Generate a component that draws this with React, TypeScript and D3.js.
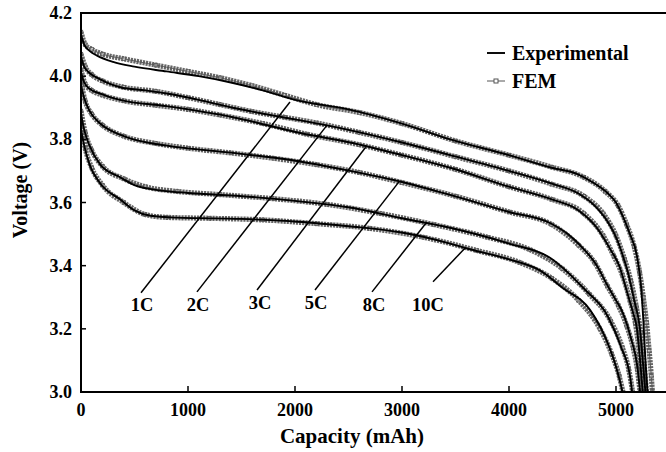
import React from 'react';
import * as d3 from 'd3';

type P = [number, number];

const xTicks = [1000, 2000, 3000, 4000, 5000];
const yTicks = [3.0, 3.2, 3.4, 3.6, 3.8, 4.0, 4.2];
const rates = ['1C', '2C', '3C', '5C', '8C', '10C'];

const exp1C: P[] = [[0,4.13],[30,4.10],[80,4.08],[150,4.065],[300,4.045],[500,4.03],[800,4.015],[1100,4.0],[1400,3.98],[1700,3.955],[2000,3.925],[2500,3.895],[3000,3.85],[3450,3.80],[4000,3.75],[4400,3.71],[4640,3.69],[4800,3.66],[4920,3.63],[5000,3.60],[5065,3.555],[5130,3.50],[5196,3.43],[5235,3.33],[5255,3.23],[5275,3.10],[5295,3.0]];
const exp2C: P[] = [[0,4.06],[30,4.03],[80,4.01],[180,3.99],[365,3.965],[600,3.955],[800,3.945],[1100,3.925],[1420,3.90],[1800,3.875],[2050,3.86],[2500,3.83],[3000,3.79],[3450,3.75],[4000,3.70],[4400,3.66],[4640,3.63],[4800,3.59],[4920,3.54],[5000,3.49],[5065,3.43],[5110,3.38],[5170,3.29],[5224,3.20],[5255,3.08],[5275,3.0]];
const exp3C: P[] = [[0,4.01],[30,3.98],[80,3.96],[180,3.945],[365,3.925],[800,3.905],[1420,3.87],[2050,3.82],[2515,3.79],[3000,3.75],[3450,3.71],[4000,3.65],[4400,3.61],[4640,3.577],[4820,3.52],[4950,3.45],[5030,3.40],[5100,3.32],[5160,3.25],[5196,3.20],[5230,3.08],[5250,3.0]];
const exp5C: P[] = [[0,3.97],[30,3.93],[80,3.89],[180,3.85],[365,3.815],[490,3.80],[800,3.78],[1420,3.757],[2050,3.73],[2515,3.70],[3000,3.665],[3449,3.624],[4000,3.57],[4383,3.535],[4550,3.50],[4692,3.455],[4822,3.40],[4916,3.34],[5000,3.29],[5065,3.25],[5140,3.17],[5200,3.08],[5225,3.0]];
const exp8C: P[] = [[0,3.88],[30,3.83],[80,3.78],[180,3.72],[365,3.68],[500,3.655],[700,3.64],[1000,3.63],[1500,3.62],[2000,3.605],[2500,3.585],[3000,3.55],[3449,3.52],[4000,3.47],[4383,3.425],[4692,3.33],[4930,3.235],[5050,3.14],[5131,3.05],[5150,3.0]];
const exp10C: P[] = [[0,3.83],[30,3.78],[80,3.72],[180,3.66],[365,3.61],[500,3.575],[650,3.558],[900,3.552],[1500,3.548],[2000,3.54],[2500,3.525],[3000,3.505],[3449,3.47],[3590,3.456],[4000,3.42],[4290,3.385],[4500,3.33],[4757,3.26],[4916,3.16],[5000,3.08],[5040,3.03],[5060,3.0]];

const fem1C: P[] = [[0,4.14],[40,4.10],[100,4.085],[200,4.07],[400,4.055],[700,4.035],[1000,4.015],[1300,3.995],[1600,3.97],[1900,3.94],[2200,3.91],[2600,3.885],[3000,3.85],[3500,3.795],[4000,3.75],[4400,3.712],[4700,3.68],[4900,3.635],[5020,3.59],[5100,3.53],[5170,3.46],[5220,3.38],[5255,3.30],[5285,3.22],[5310,3.13],[5330,3.05],[5340,3.0]];
const fem2C: P[] = [[0,4.07],[40,4.03],[100,4.005],[200,3.985],[400,3.965],[700,3.952],[1000,3.932],[1300,3.91],[1600,3.888],[1900,3.87],[2200,3.852],[2600,3.822],[3000,3.79],[3500,3.745],[4000,3.70],[4400,3.658],[4700,3.62],[4880,3.565],[5000,3.495],[5080,3.42],[5140,3.35],[5190,3.27],[5230,3.19],[5260,3.10],[5285,3.0]];
const fem3C: P[] = [[0,4.02],[40,3.975],[100,3.955],[200,3.94],[400,3.922],[700,3.908],[1000,3.895],[1300,3.877],[1700,3.85],[2100,3.817],[2600,3.783],[3000,3.75],[3500,3.705],[4000,3.65],[4400,3.61],[4700,3.565],[4880,3.495],[4980,3.43],[5060,3.37],[5130,3.29],[5180,3.22],[5220,3.12],[5245,3.04],[5255,3.0]];
const fem5C: P[] = [[0,3.98],[40,3.92],[100,3.88],[200,3.845],[400,3.81],[700,3.787],[1000,3.772],[1400,3.757],[1800,3.74],[2200,3.72],[2600,3.695],[3000,3.663],[3500,3.62],[4000,3.57],[4400,3.53],[4650,3.465],[4800,3.41],[4920,3.335],[5020,3.275],[5100,3.21],[5160,3.14],[5200,3.07],[5225,3.0]];
const fem8C: P[] = [[0,3.89],[40,3.82],[100,3.765],[200,3.715],[400,3.675],[600,3.65],[900,3.635],[1300,3.625],[1800,3.612],[2300,3.594],[2800,3.565],[3300,3.53],[3800,3.49],[4200,3.45],[4500,3.39],[4750,3.31],[4950,3.225],[5060,3.14],[5120,3.07],[5155,3.0]];
const fem10C: P[] = [[0,3.84],[40,3.77],[100,3.71],[200,3.655],[400,3.60],[600,3.562],[800,3.553],[1200,3.55],[1700,3.545],[2200,3.533],[2700,3.518],[3200,3.49],[3700,3.448],[4100,3.41],[4400,3.36],[4650,3.29],[4850,3.20],[4960,3.12],[5030,3.05],[5065,3.0]];

const expSeries = [exp1C, exp2C, exp3C, exp5C, exp8C, exp10C];
const femSeries = [fem1C, fem2C, fem3C, fem5C, fem8C, fem10C];

// rate label anchors (capacity, voltage) and leader lines
const labelCap = [570, 1093, 1673, 2196, 2738, 3243];
const labelV = [3.276, 3.276, 3.282, 3.282, 3.276, 3.276];
const leaderFromCap = [561, 1084, 1645, 2187, 2720, 3290];
const leaderFromV = [3.314, 3.317, 3.323, 3.323, 3.317, 3.349];
const leaderToCap = [1953, 2300, 2660, 2975, 3225, 3590];
const leaderToV = [3.918, 3.845, 3.775, 3.667, 3.535, 3.456];

const legendItems = ['Experimental', 'FEM'];

const W = 666;
const H = 452;
const FONT = '"Liberation Serif", "Times New Roman", serif';

export default function App() {
  const x = d3.scaleLinear().domain([0, 5500]).range([81, 669.5]);
  const y = d3.scaleLinear().domain([3.0, 4.2]).range([392, 13]);
  const line = d3
    .line<P>()
    .x((d) => x(d[0]))
    .y((d) => y(d[1]))
    .curve(d3.curveMonotoneX);

  const x0 = x(0);
  const x1 = x(5500);
  const yb = y(3.0);
  const yt = y(4.2);

  return (
    <svg
      width={W}
      height={H}
      style={{ position: 'absolute', left: 0, top: 0, background: '#fff' }}
      fontFamily={FONT}
      fontWeight="bold"
    >
      <rect x={0} y={0} width={W} height={H} fill="#fff" />
      <defs>
        <clipPath id="plot">
          <rect x={x0} y={yt} width={x1 - x0} height={yb - yt} />
        </clipPath>
      </defs>

      <g clipPath="url(#plot)">
        {femSeries.map((s, i) => (
          <path
            key={'band' + i}
            d={line(s) || ''}
            fill="none"
            stroke="#666"
            strokeWidth={5.2}
            strokeDasharray="2.2 0.9"
          />
        ))}
        {femSeries.map((s, i) => (
          <path key={'fl' + i} d={line(s) || ''} fill="none" stroke="#555" strokeWidth={0.9} />
        ))}
        {femSeries.map((s, i) =>
          s.map((d, j) => (
            <rect
              key={'m' + i + '-' + j}
              x={x(d[0]) - 1.7}
              y={y(d[1]) - 1.7}
              width={3.4}
              height={3.4}
              fill="#fff"
              fillOpacity={0.3}
              stroke="#555"
              strokeWidth={0.8}
            />
          ))
        )}
        {expSeries.map((s, i) => (
          <path key={'e' + i} d={line(s) || ''} fill="none" stroke="#000" strokeWidth={1.9} />
        ))}
      </g>

      {/* leaders and labels */}
      {rates.map((r, i) => (
        <g key={r}>
          <line
            x1={x(leaderFromCap[i])}
            y1={y(leaderFromV[i])}
            x2={x(leaderToCap[i])}
            y2={y(leaderToV[i])}
            stroke="#000"
            strokeWidth={1.5}
          />
          <text
            x={x(labelCap[i])}
            y={y(labelV[i])}
            textAnchor="middle"
            dominantBaseline="central"
            fontSize={18.5}
          >
            {r}
          </text>
        </g>
      ))}

      {/* frame */}
      <line x1={x0} y1={yt} x2={x1} y2={yt} stroke="#000" strokeWidth={2} />
      <line x1={x0} y1={yb} x2={x1} y2={yb} stroke="#000" strokeWidth={2} />
      <line x1={x0} y1={yt - 1} x2={x0} y2={yb + 1} stroke="#000" strokeWidth={2} />

      {/* y ticks */}
      {yTicks.map((t) => (
        <g key={'yt' + t}>
          <line x1={x0} x2={x0 + 5} y1={y(t)} y2={y(t)} stroke="#000" strokeWidth={1.5} />
          <text x={x0 - 9} y={y(t)} textAnchor="end" dominantBaseline="central" fontSize={18}>
            {t.toFixed(1)}
          </text>
        </g>
      ))}

      {/* x ticks */}
      <text x={x0} y={416} textAnchor="middle" fontSize={18}>
        0
      </text>
      {xTicks.map((t) => (
        <g key={'xt' + t}>
          <line x1={x(t)} x2={x(t)} y1={yb} y2={yb - 6} stroke="#000" strokeWidth={1.5} />
          <text x={x(t)} y={416} textAnchor="middle" fontSize={18}>
            {t}
          </text>
        </g>
      ))}

      {/* axis titles */}
      <text x={352} y={443} textAnchor="middle" fontSize={21}>
        Capacity (mAh)
      </text>
      <text
        transform={`translate(27, 190) rotate(-90)`}
        textAnchor="middle"
        fontSize={20}
      >
        Voltage (V)
      </text>

      {/* legend */}
      <g>
        <line x1={487} x2={505} y1={53} y2={53} stroke="#000" strokeWidth={1.9} />
        <text x={512} y={53} dominantBaseline="central" fontSize={20}>
          {legendItems[0]}
        </text>
        <line x1={487} x2={505} y1={81} y2={81} stroke="#555" strokeWidth={1} />
        <rect x={494} y={79} width={4} height={4} fill="#fff" stroke="#555" strokeWidth={1} />
        <text x={512} y={81} dominantBaseline="central" fontSize={20}>
          {legendItems[1]}
        </text>
      </g>
    </svg>
  );
}
